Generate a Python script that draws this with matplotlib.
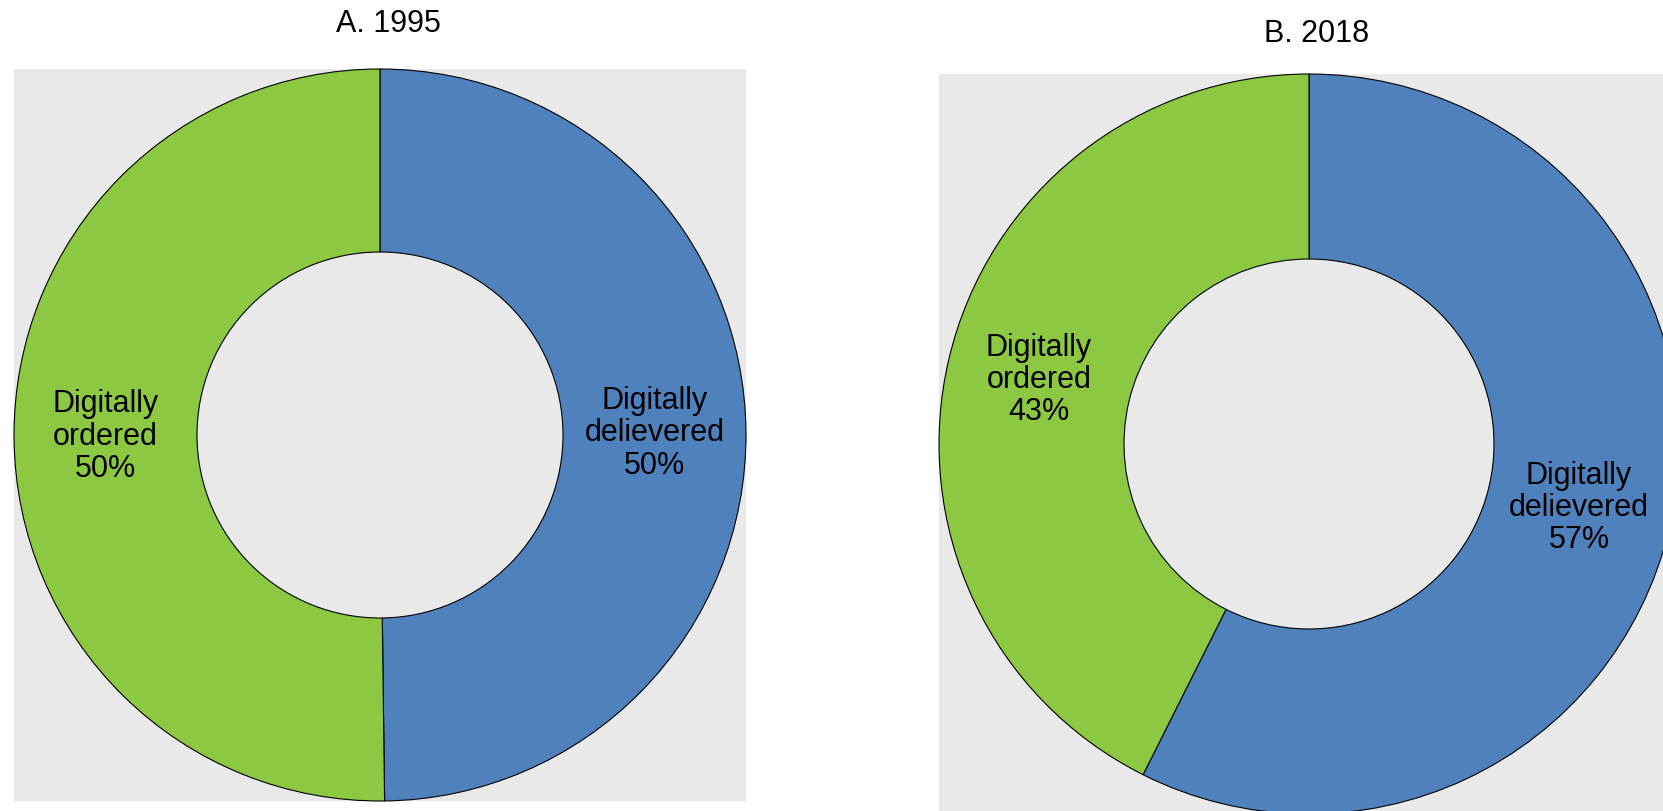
import matplotlib
matplotlib.use("Agg")
import matplotlib.pyplot as plt

# Data
panels = ["A. 1995", "B. 2018"]
categories = ["Digitally\ndelievered", "Digitally\nordered"]
shares_1995 = [49.8, 50.2]
shares_2018 = [57.4, 42.6]
label_pct_1995 = [50, 50]
label_pct_2018 = [57, 43]

colors = ["#4F81BD", "#8CC841"]
bg = "#E9E9E9"
font = ["Liberation Sans Narrow", "Liberation Sans", "DejaVu Sans"]

fig = plt.figure(figsize=(16.63, 8.11), dpi=100)

rects = [
    [14 / 1663, 1 - 801 / 811, 732 / 1663, 732 / 811],
    [939 / 1663, 1 - 814 / 811, 740 / 1663, 740 / 811],
]
title_pos = [(388 / 1663, 1 - 24 / 811), (1317 / 1663, 1 - 34 / 811)]


def donut(ax, shares, pcts):
    labels = [f"{c}\n{p}%" for c, p in zip(categories, pcts)]
    wedges, texts = ax.pie(
        shares, colors=colors, startangle=90, counterclock=False,
        radius=1.0, labels=labels, labeldistance=0.75, frame=True,
        wedgeprops=dict(width=0.5, edgecolor="black", linewidth=0.8),
        textprops=dict(fontsize=22, family=font, linespacing=1.1),
    )
    for t in texts:
        t.set_horizontalalignment("center")
        t.set_verticalalignment("center")
    ax.set_xlim(-1, 1)
    ax.set_ylim(-1, 1)
    ax.set_aspect("equal")
    ax.set_facecolor(bg)
    for s in ax.spines.values():
        s.set_visible(False)
    ax.set_xticks([])
    ax.set_yticks([])


for i, (shares, pcts) in enumerate([(shares_1995, label_pct_1995),
                                    (shares_2018, label_pct_2018)]):
    ax = fig.add_axes(rects[i])
    donut(ax, shares, pcts)
    fig.text(title_pos[i][0], title_pos[i][1], panels[i], ha="center",
             va="center", fontsize=22, family=font)

fig.savefig("out.png", dpi=100)
